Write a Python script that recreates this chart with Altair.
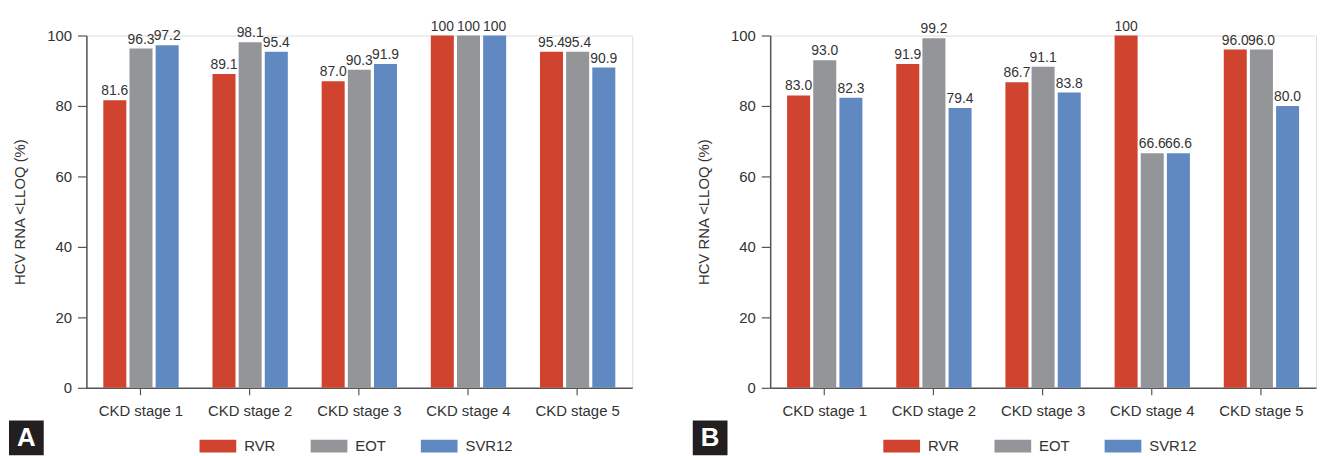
import altair as alt
import pandas as pd

stages = ["CKD stage 1", "CKD stage 2", "CKD stage 3", "CKD stage 4", "CKD stage 5"]
series = ["RVR", "EOT", "SVR12"]
colors = ["#D0432F", "#939598", "#6189C1"]

a_rvr = [81.6, 89.1, 87.0, 100, 95.4]
a_eot = [96.3, 98.1, 90.3, 100, 95.4]
a_svr = [97.2, 95.4, 91.9, 100, 90.9]

b_rvr = [83.0, 91.9, 86.7, 100, 96.0]
b_eot = [93.0, 99.2, 91.1, 66.6, 96.0]
b_svr = [82.3, 79.4, 83.8, 66.6, 80.0]

REG = "'Liberation Sans', Arial, sans-serif"


def make_df(rvr, eot, svr):
    rows = []
    for s, vals in zip(series, [rvr, eot, svr]):
        for st, v in zip(stages, vals):
            lbl = "100" if v == 100 else f"{v:.1f}"
            rows.append({"stage": st, "series": s, "value": v, "label": lbl})
    return pd.DataFrame(rows)


def panel(df, letter):
    x = alt.X(
        "stage:N", sort=stages,
        scale=alt.Scale(paddingInner=0.31, paddingOuter=0.155),
        axis=alt.Axis(title=None, labelAngle=0, labelFont=REG, labelFontSize=15,
                      labelColor="#333333", domainColor="#555555", domainWidth=1.5,
                      tickColor="#555555", tickSize=7, tickWidth=1.2, labelPadding=9),
    )
    xo = alt.XOffset("series:N", sort=series,
                     scale=alt.Scale(paddingInner=0.12, paddingOuter=0))
    y = alt.Y(
        "value:Q",
        scale=alt.Scale(domain=[0, 100], nice=False),
        axis=alt.Axis(values=[0, 20, 40, 60, 80, 100], title="HCV RNA <LLOQ (%)",
                      titleFont=REG, titleFontSize=15, titleFontWeight="normal",
                      titleColor="#333333", titlePadding=19,
                      labelFont=REG, labelFontSize=15, labelColor="#333333",
                      domainColor="#555555", domainWidth=1.5, tickColor="#555555",
                      tickSize=9, tickWidth=1.2, labelPadding=6, grid=False),
    )
    color = alt.Color(
        "series:N", sort=series,
        scale=alt.Scale(domain=series, range=colors),
        legend=alt.Legend(
            title=None, orient="none", legendX=114, legendY=395, direction="horizontal",
            symbolType="M-1,-0.35L1,-0.35L1,0.35L-1,0.35Z", symbolSize=1369,
            symbolStrokeWidth=0, symbolOpacity=1, labelFont=REG, labelFontSize=15,
            labelColor="#333333", labelOffset=8, columnPadding=35, padding=0,
        ),
    )
    bars = alt.Chart(df).mark_bar().encode(x=x, xOffset=xo, y=y, color=color)
    text = alt.Chart(df).mark_text(
        baseline="alphabetic", dy=-5, font=REG, fontSize=14, color="#333333"
    ).encode(x=x, xOffset=xo, y=y, text="label:N")
    one = pd.DataFrame({"t": [letter]})
    box = alt.Chart(one).mark_rect(color="#231F20").encode(
        x=alt.value(-78), x2=alt.value(-43), y=alt.value(388), y2=alt.value(423)
    )
    lab = alt.Chart(one).mark_text(
        font=REG, fontSize=26, fontWeight="bold", color="white",
        align="center", baseline="middle"
    ).encode(x=alt.value(-60.5), y=alt.value(406), text="t:N")
    return alt.layer(bars, text, box, lab).properties(width=550, height=355)


chart = (
    alt.hconcat(panel(make_df(a_rvr, a_eot, a_svr), "A"),
                panel(make_df(b_rvr, b_eot, b_svr), "B"), spacing=59)
    .resolve_scale(color="independent")
    .properties(padding={"left": 0, "top": 9, "right": 0, "bottom": 0})
    .configure_view(stroke=None)
    .configure(background="white")
)

chart.save("out.html", embed_options={"renderer": "svg", "actions": False})
